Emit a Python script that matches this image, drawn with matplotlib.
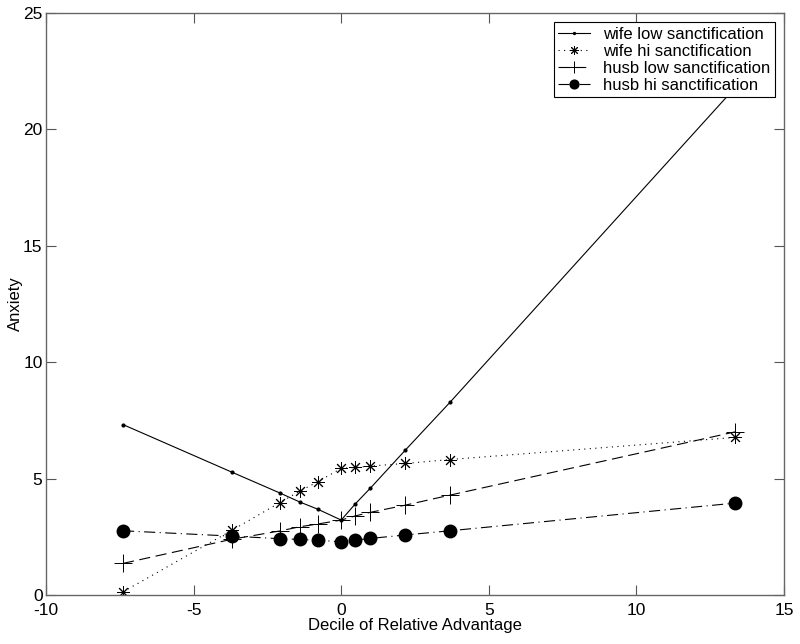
import matplotlib
matplotlib.use('Agg')
import matplotlib.pyplot as plt

plt.rcParams['font.family'] = ['Liberation Sans', 'DejaVu Sans']
plt.rcParams['axes.unicode_minus'] = False

x = [-7.39, -3.69, -2.09, -1.41, -0.80, 0.0, 0.48, 0.98, 2.17, 3.68, 13.35]

wife_low = [7.32, 5.27, 4.39, 4.00, 3.69, 3.22, 3.92, 4.58, 6.22, 8.27, 21.8]
wife_hi = [0.14, 2.79, 3.96, 4.46, 4.86, 5.44, 5.48, 5.54, 5.65, 5.82, 6.77]
husb_low = [1.36, 2.40, 2.75, 2.93, 3.05, 3.22, 3.40, 3.55, 3.86, 4.29, 7.01]
husb_hi = [2.76, 2.53, 2.42, 2.39, 2.35, 2.29, 2.36, 2.43, 2.58, 2.76, 3.95]

labels = ["wife low sanctification", "wife hi sanctification",
          "husb low sanctification", "husb hi sanctification"]

fig = plt.figure(figsize=(8, 6.44), dpi=100)
ax = fig.add_axes([0.0575, 0.076, 0.9225, 0.904])

ax.plot(x, wife_low, color='black', lw=0.8, ls='-', marker='.', ms=4, label=labels[0])
ax.plot(x, wife_hi, color='black', lw=0.8, ls=(0, (1, 4)), marker=(8, 2, 0), ms=9,
        mew=0.7, label=labels[1])
ax.plot(x, husb_low, color='black', lw=0.8, ls=(0, (10, 5)), marker='+', ms=13,
        mew=0.7, label=labels[2])
ax.plot(x, husb_hi, color='black', lw=0.8, ls=(0, (10, 4, 1, 4)), marker='o', ms=9,
        label=labels[3])

ax.set_xlim(-10, 15)
ax.set_ylim(0, 25)
ax.set_xticks([-10, -5, 0, 5, 10, 15])
ax.set_yticks([0, 5, 10, 15, 20, 25])

ax.tick_params(direction='in', length=7, width=0.8, top=True, right=True,
               labelsize=12.5, color='#555555')
ax.tick_params(axis='x', pad=5.5)
ax.tick_params(axis='y', pad=2.5)
for s in ax.spines.values():
    s.set_color('#666666')
    s.set_linewidth(1.0)

ax.set_xlabel('Decile of Relative Advantage', fontsize=12, labelpad=0)
ax.set_ylabel('Anxiety', fontsize=12, labelpad=0)

leg = ax.legend(loc='upper right', bbox_to_anchor=(0.9875, 0.9835), fontsize=12,
                fancybox=False, framealpha=1, edgecolor='black', handlelength=1.9,
                borderpad=0.25, labelspacing=0.12, handletextpad=0.8, borderaxespad=0,
                markerscale=0.7)
leg.get_frame().set_linewidth(0.8)

plt.savefig('out.png', dpi=100)
